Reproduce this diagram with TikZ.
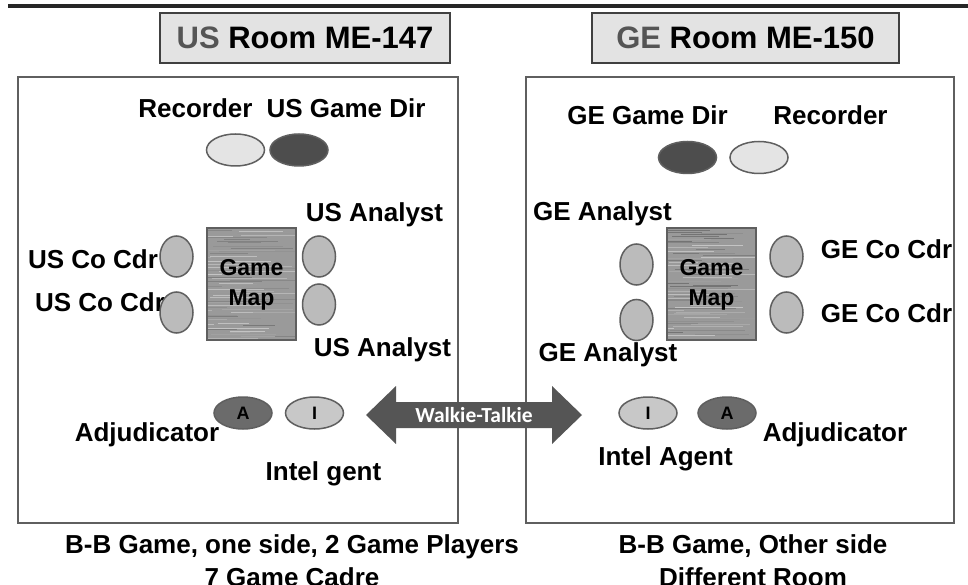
\documentclass[tikz,border=0pt]{standalone}
\usepackage{fontspec}
\setmainfont{Liberation Sans}
\newfontfamily\calib{Carlito}
\usetikzlibrary{shapes.geometric}
\definecolor{edge}{HTML}{5F5F5F}
\definecolor{lightp}{HTML}{E4E4E4}
\definecolor{darkp}{HTML}{4D4D4D}
\definecolor{midp}{HTML}{BBBBBB}
\definecolor{adj}{HTML}{6B6B6B}
\definecolor{intel}{HTML}{C8C8C8}
\definecolor{arrowc}{HTML}{555555}
\definecolor{titlebg}{HTML}{E3E3E3}
\definecolor{sidegray}{HTML}{555555}
\definecolor{woodc}{HTML}{9A9A9A}
\tikzset{
  lbl/.style={font=\bfseries\fontsize{26}{30}\selectfont, inner sep=0pt, text height=18.6pt, text depth=0pt, anchor=center},
  caption/.style={font=\bfseries\fontsize{26}{33}\selectfont, inner sep=0pt, align=center, anchor=north},
  titlebox/.style={draw=black!75, line width=1.2pt, fill=titlebg, minimum height=50pt, inner sep=0pt, font=\bfseries\fontsize{31}{34}\selectfont},
  room/.style={draw=edge, line width=1.8pt, inner sep=0pt},
  hseat/.style={ellipse, draw=edge, line width=1.5pt, minimum width=58pt, minimum height=32pt, inner sep=0pt, font=\bfseries\fontsize{18}{20}\selectfont},
  vseat/.style={ellipse, draw=edge, line width=1.5pt, fill=midp, minimum width=33pt, minimum height=41pt, inner sep=0pt},
  maptext/.style={font=\bfseries\fontsize{23}{30}\selectfont, align=center, inner sep=0pt}
}
\newcommand{\woodtexture}[4]{%
  \fill[woodc] (#1,#2) rectangle (#3,#4);
  \begin{scope}
    \clip (#1,#2) rectangle (#3,#4);
    \pgfmathsetseed{#1}
    \foreach \i in {0,...,70} {
      \pgfmathsetmacro{\yy}{#2+\i*1.6+rnd*1.2}
      \pgfmathsetmacro{\xa}{#1+rnd*60-20}
      \pgfmathsetmacro{\xb}{\xa+20+rnd*60}
      \pgfmathsetmacro{\gg}{45+rnd*32}
      \draw[line width=0.7pt, color=white!\gg!black] (\xa,\yy) -- (\xb,\yy);
    }
  \end{scope}
  \draw[draw=edge, line width=1.5pt] (#1,#2) rectangle (#3,#4);
}
\begin{document}
\begin{tikzpicture}[x=1pt,y=-1pt]
\useasboundingbox (0,0) rectangle (968,585);
\clip (0,0) rectangle (968,585);
\fill[white] (0,0) rectangle (968,585);

% top rule
\draw[line width=4pt, color=black!85] (8,6) -- (968,6);

% titles
\node[titlebox, minimum width=290pt] (ustitle) at (305,38) {\textcolor{sidegray}{US} Room ME-147};
\node[titlebox, minimum width=307pt] (getitle) at (745.5,38) {\textcolor{sidegray}{GE} Room ME-150};

% rooms
\node[room, minimum width=440pt, minimum height=446pt] (usroom) at (238,300) {};
\node[room, minimum width=428pt, minimum height=446pt] (geroom) at (740,300) {};

% ===== US room =====
\node[lbl] (usrecl) at (195.5,108) {Recorder};
\node[lbl] (usdirl) at (346,108) {US Game Dir};
\node[hseat, fill=lightp] (usrec) at (235.5,150) {};
\node[hseat, fill=darkp] (usdir) at (299,150) {};

\node[lbl] (usan1l) at (374.5,212) {US Analyst};
\node[lbl] (usco1l) at (93,259) {US Co Cdr};
\node[lbl] (usco2l) at (100,302) {US Co Cdr};
\node[lbl] (usan2l) at (382.5,347) {US Analyst};

\woodtexture{207}{228}{296}{340}
\node[maptext] (usmap) at (251.5,285) {Game\\Map};

\node[vseat] (usco1) at (176.5,256.5) {};
\node[vseat] (usco2) at (176.5,312.5) {};
\node[vseat] (usan1) at (319,256.5) {};
\node[vseat] (usan2) at (319,304.5) {};

\node[hseat, fill=adj] (usadj) at (243,413) {A};
\node[hseat, fill=intel] (usint) at (314.5,413) {I};
\node[lbl] (usadjl) at (147,432) {Adjudicator};
\node[lbl] (usintl) at (323.5,471) {Intel gent};

% ===== GE room =====
\node[lbl] (gedirl) at (647.5,115) {GE Game Dir};
\node[lbl] (gerecl) at (830.5,115) {Recorder};
\node[hseat, fill=darkp] (gedir) at (687.5,157.5) {};
\node[hseat, fill=lightp] (gerec) at (759,157.5) {};

\node[lbl] (gean1l) at (602.5,211) {GE Analyst};
\node[lbl] (geco1l) at (886.5,249) {GE Co Cdr};
\node[lbl] (geco2l) at (886.5,313) {GE Co Cdr};
\node[lbl] (gean2l) at (608,352) {GE Analyst};

\woodtexture{667}{228}{756}{340}
\node[maptext] (gemap) at (711.5,285) {Game\\Map};

\node[vseat] (gean1) at (636.5,264.5) {};
\node[vseat] (gean2) at (636.5,320) {};
\node[vseat] (geco1) at (786.5,256.5) {};
\node[vseat] (geco2) at (786.5,312.5) {};

\node[hseat, fill=intel] (geint) at (648,413) {I};
\node[hseat, fill=adj] (geadj) at (727,413) {A};
\node[lbl] (geadjl) at (835,432) {Adjudicator};
\node[lbl] (geintl) at (665.5,456) {Intel Agent};

% ===== walkie-talkie arrow =====
\fill[arrowc] (366,415) -- (396,386) -- (396,402) -- (552,402) -- (552,386)
  -- (582,415) -- (552,444) -- (552,428) -- (396,428) -- (396,444) -- cycle;
\node[font=\calib\bfseries\fontsize{21.5}{23}\selectfont, text=white, inner sep=0pt] (walkie) at (474,415) {Walkie-Talkie};

% ===== captions =====
\node[caption] (uscap) at (292,534) {B-B Game, one side, 2 Game Players\\7 Game Cadre};
\node[caption] (gecap) at (753,534) {B-B Game, Other side\\Different Room};
\end{tikzpicture}
\end{document}
